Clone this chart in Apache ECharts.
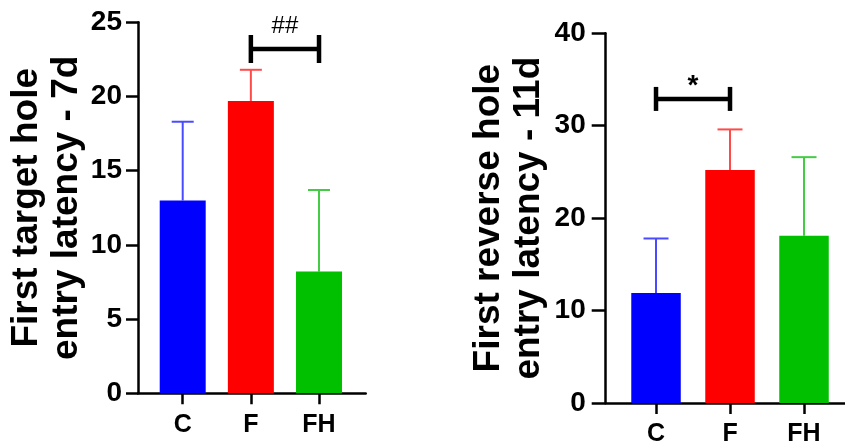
<!DOCTYPE html>
<html>
<head>
<meta charset="utf-8">
<script src="https://cdn.jsdelivr.net/npm/echarts@6/dist/echarts.min.js"></script>
<style>html,body{margin:0;padding:0;background:#fff;}#c{width:845px;height:447px;}</style>
</head>
<body>
<div id="c"></div>
<script>
// ---- data ----
const categories = ['C', 'F', 'FH'];
const barColors = ['#0000ff', '#ff0000', '#00c000'];
const errColors = ['#4a4aff', '#ff4a4a', '#44cc44'];

// left panel
const leftMeans = [13.0, 19.7, 8.2];
const leftErrs = [5.3, 2.1, 5.5];
const leftTicks = [0, 5, 10, 15, 20, 25];
const leftTitle = 'First target hole\nentry latency - 7d';
const leftSigPair = [1, 2];
const leftSigLevel = 23.2;
const leftSigLabel = '##';

// right panel
const rightMeans = [11.9, 25.2, 18.1];
const rightErrs = [5.9, 4.4, 8.5];
const rightTicks = [0, 10, 20, 30, 40];
const rightTitle = 'First reverse hole\nentry latency - 11d';
const rightSigPair = [0, 1];
const rightSigLevel = 32.9;
const rightSigLabel = '*';

const chart = echarts.init(document.getElementById('c'), null, {renderer: 'canvas'});
const idx = categories.map((c, i) => i);
const tickFont = "'Liberation Sans Narrow', 'Liberation Sans', Arial, sans-serif";
const mainFont = "'Liberation Sans', Arial, sans-serif";

function xAxisCfg(gi, min, max) {
  return {
    gridIndex: gi, type: 'value', min: min, max: max,
    splitLine: {show: false},
    axisLine: {show: true, onZero: false, lineStyle: {color: '#000', width: 2.5}},
    axisTick: {show: true, customValues: idx, length: 11, lineStyle: {color: '#000', width: 2.5}},
    axisLabel: {show: true, customValues: idx, margin: 19,
      formatter: v => categories[Math.round(v)],
      color: '#000', fontSize: 25, fontWeight: 'bold', fontFamily: mainFont}
  };
}
function yAxisCfg(gi, ticks, title, gap, margin, tickLen) {
  return {
    gridIndex: gi, type: 'value', min: ticks[0], max: ticks[ticks.length - 1],
    interval: ticks[1] - ticks[0],
    splitLine: {show: false},
    axisLine: {show: true, onZero: false, lineStyle: {color: '#000', width: 2.5}},
    axisTick: {show: true, length: tickLen, lineStyle: {color: '#000', width: 2.5}},
    axisLabel: {margin: margin, color: '#000', fontSize: 28, fontWeight: 'bold', fontFamily: tickFont},
    name: title, nameLocation: 'middle', nameRotate: 90, nameGap: gap,
    nameTextStyle: {color: '#000', fontSize: 37, fontWeight: 'bold', fontFamily: mainFont, lineHeight: 40}
  };
}

function barSeries(gi, means, bw) {
  return {
    type: 'bar', xAxisIndex: gi, yAxisIndex: gi, barWidth: bw,
    data: means.map((v, i) => ({value: [i, v], itemStyle: {color: barColors[i]}})),
    animation: false
  };
}
function errSeries(gi, means, errs, capHalf) {
  return {
    type: 'custom', xAxisIndex: gi, yAxisIndex: gi, animation: false,
    data: means.map((m, i) => [i, m, m + errs[i]]),
    renderItem: function (params, api) {
      const i = api.value(0);
      const p0 = api.coord([i, api.value(1)]);
      const p1 = api.coord([i, api.value(2)]);
      const col = errColors[i];
      return {type: 'group', children: [
        {type: 'line', shape: {x1: p0[0], y1: p0[1], x2: p1[0], y2: p1[1]}, style: {stroke: col, lineWidth: 2}},
        {type: 'line', shape: {x1: p1[0] - capHalf, y1: p1[1], x2: p1[0] + capHalf, y2: p1[1]}, style: {stroke: col, lineWidth: 2}}
      ]};
    }
  };
}
function sigSeries(gi, pair, level, label, endHalf, font, textOffset) {
  return {
    type: 'custom', xAxisIndex: gi, yAxisIndex: gi, animation: false,
    data: [[pair[0], pair[1], level]],
    renderItem: function (params, api) {
      const a = api.coord([api.value(0), api.value(2)]);
      const b = api.coord([api.value(1), api.value(2)]);
      const st = {stroke: '#000', lineWidth: 4.5};
      return {type: 'group', children: [
        {type: 'line', shape: {x1: a[0], y1: a[1], x2: b[0], y2: b[1]}, style: st},
        {type: 'line', shape: {x1: a[0], y1: a[1] - endHalf, x2: a[0], y2: a[1] + endHalf}, style: st},
        {type: 'line', shape: {x1: b[0], y1: b[1] - endHalf, x2: b[0], y2: b[1] + endHalf}, style: st},
        {type: 'text', x: (a[0] + b[0]) / 2, y: a[1] - textOffset,
          style: {text: label, fill: '#000', font: font, textAlign: 'center', textVerticalAlign: 'middle'}}
      ]};
    }
  };
}

chart.setOption({
  backgroundColor: '#fff',
  animation: false,
  grid: [
    {left: 138, top: 22.3, width: 227.7, height: 371},
    {left: 605.7, top: 33.3, right: 0, height: 371}
  ],
  xAxis: [xAxisCfg(0, -0.656, 2.685), xAxisCfg(1, -0.68, 2.554)],
  yAxis: [yAxisCfg(0, leftTicks, leftTitle, 50, 16, 12), yAxisCfg(1, rightTicks, rightTitle, 57, 20, 14)],
  series: [
    barSeries(0, leftMeans, 46),
    errSeries(0, leftMeans, leftErrs, 11),
    sigSeries(0, leftSigPair, leftSigLevel, leftSigLabel, 14, "normal 24px 'Liberation Sans', Arial", 23),
    barSeries(1, rightMeans, 49.5),
    errSeries(1, rightMeans, rightErrs, 12.5),
    sigSeries(1, rightSigPair, rightSigLevel, rightSigLabel, 12, "bold 28px 'Liberation Sans', Arial", 13)
  ]
});
</script>
</body>
</html>
